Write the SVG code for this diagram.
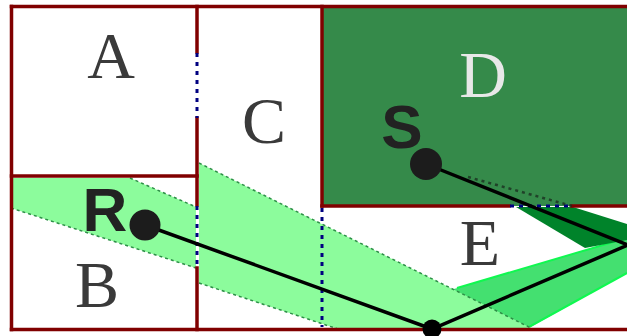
<svg xmlns="http://www.w3.org/2000/svg" width="627" height="336" viewBox="0 0 627 336">
<style>
.wall{stroke:#800000;stroke-width:3.5;fill:none;stroke-linecap:square}
.portal{stroke:#000080;stroke-width:3;stroke-dasharray:4 5;fill:none}
.lbl{font-family:"Liberation Serif",serif;font-size:66px;fill:#3a3a3a;text-anchor:middle}
.pt{font-family:"Liberation Sans",Arial,sans-serif;font-weight:bold;font-size:62px;fill:#222;text-anchor:middle}
.light{fill:#8cfc9c}
.edge{stroke:#2d8f47;stroke-width:1.5;stroke-dasharray:3 3;fill:none}
.ray{stroke:#000;stroke-width:3.5;fill:none;stroke-linejoin:miter}
</style>
<rect width="627" height="336" fill="#ffffff"/>
<g id="D"><rect x="322" y="6" width="310" height="200" fill="#358a4a"/></g>
<g id="bands">
  <polygon points="430,296 627,238 627,273 527,329 430,329" fill="#44e070"/>
  <line x1="457" y1="288" x2="627" y2="238" stroke="#10f850" stroke-width="2"/>
  <line x1="527" y1="328" x2="627" y2="273" stroke="#10f850" stroke-width="2"/>
  <polygon points="516,207 573,207 627,224 627,240 585,248" fill="#00832a"/>
  <polygon class="light" points="11,178 130,178 196,207 196,268 11,208"/>
  <line class="edge" x1="130" y1="178" x2="196" y2="207"/>
  <line class="edge" x1="11" y1="208" x2="196" y2="268"/>
  <polygon class="light" points="199,163 533,329 338,329 199,283"/>
  <line class="edge" x1="199" y1="163" x2="533" y2="329"/>
  <line class="edge" x1="199" y1="283" x2="338" y2="329"/>
</g>
<g id="walls">
  <line class="wall" x1="11.5" y1="6.5" x2="630" y2="6.5"/>
  <line class="wall" x1="11.5" y1="6.5" x2="11.5" y2="329.5"/>
  <line class="wall" x1="11.5" y1="329.5" x2="630" y2="329.5"/>
  <line class="wall" x1="11.5" y1="176" x2="197" y2="176"/>
  <line class="wall" x1="197" y1="6.5" x2="197" y2="52"/>
  <line class="wall" x1="197" y1="118" x2="197" y2="205"/>
  <line class="wall" x1="197" y1="268" x2="197" y2="329.5"/>
  <line class="wall" x1="322" y1="6.5" x2="322" y2="206"/>
  <line class="wall" x1="322" y1="206" x2="509" y2="206"/>
  <line class="wall" x1="572" y1="206" x2="630" y2="206"/>
</g>
<g id="portals">
  <line class="portal" x1="197" y1="53" x2="197" y2="118"/>
  <line class="portal" x1="197" y1="206" x2="197" y2="268"/>
  <line class="portal" x1="322" y1="208" x2="322" y2="327"/>
  <line class="portal" x1="510" y1="206" x2="572" y2="206"/>
</g>
<g id="A"><text class="lbl" x="111" y="78">A</text></g>
<g id="B"><text class="lbl" x="97" y="307">B</text></g>
<g id="C"><text class="lbl" x="264" y="143">C</text></g>
<g id="D-label"><text class="lbl" x="483" y="97" style="fill:#e8e8e8">D</text></g>
<g id="E"><text class="lbl" x="480" y="265">E</text></g>
<g id="connectors">
  <polyline class="ray" points="145,225 432,329 628,245 426,164"/>
  <line x1="468" y1="177" x2="572" y2="206" stroke="#1a2a1e" stroke-width="2.5" stroke-dasharray="3 4" opacity="0.75"/>
</g>
<g id="R">
  <text class="pt" x="105" y="231">R</text>
  <circle cx="145" cy="225" r="15.5" fill="#1c1c1c"/>
</g>
<g id="S">
  <text class="pt" x="402" y="148">S</text>
  <circle cx="426" cy="164" r="16" fill="#1c1c1c"/>
</g>
<g id="hit"><circle cx="432" cy="329" r="9.5" fill="#000"/></g>
</svg>
